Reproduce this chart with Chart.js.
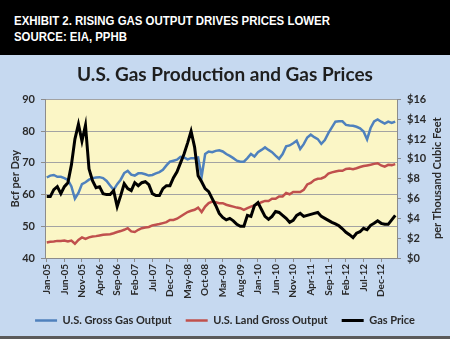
<!DOCTYPE html>
<html><head><meta charset="utf-8">
<script src="https://cdn.jsdelivr.net/npm/chart.js@4.4.1/dist/chart.umd.min.js"></script>
<style>
html,body{margin:0;padding:0;}
body{width:450px;height:339px;overflow:hidden;background:#c6d9f0;position:relative;}
#hdr{position:absolute;left:0;top:0;width:450px;height:55px;background:#000;}
.hl{position:absolute;left:14px;color:#fff;font-family:"Liberation Sans",Arial,sans-serif;font-weight:bold;font-size:12.5px;line-height:14px;white-space:nowrap;transform-origin:0 50%;}
#wrap{position:absolute;left:0;top:55px;width:450px;height:281px;}
#foot{position:absolute;left:0;top:336px;width:450px;height:3px;background:#5a5a5a;}
</style></head><body>
<div id="hdr">
<div class="hl" id="h1" style="top:14px">EXHIBIT 2. RISING GAS OUTPUT DRIVES PRICES LOWER</div>
<div class="hl" id="h2" style="top:30px">SOURCE: EIA, PPHB</div>
</div>
<div id="wrap"><canvas id="c" width="450" height="281"></canvas></div>
<div id="foot"></div>
<script>
// fit header lines to reference widths
[["h1",316],["h2",113]].forEach(function(p){var e=document.getElementById(p[0]);var w=e.getBoundingClientRect().width;e.style.transform="scaleX("+(p[1]/w)+")";});

const months = [
"Jan-05","Feb-05","Mar-05","Apr-05","May-05","Jun-05","Jul-05","Aug-05","Sep-05","Oct-05","Nov-05","Dec-05",
"Jan-06","Feb-06","Mar-06","Apr-06","May-06","Jun-06","Jul-06","Aug-06","Sep-06","Oct-06","Nov-06","Dec-06",
"Jan-07","Feb-07","Mar-07","Apr-07","May-07","Jun-07","Jul-07","Aug-07","Sep-07","Oct-07","Nov-07","Dec-07",
"Jan-08","Feb-08","Mar-08","Apr-08","May-08","Jun-08","Jul-08","Aug-08","Sep-08","Oct-08","Nov-08","Dec-08",
"Jan-09","Feb-09","Mar-09","Apr-09","May-09","Jun-09","Jul-09","Aug-09","Sep-09","Oct-09","Nov-09","Dec-09",
"Jan-10","Feb-10","Mar-10","Apr-10","May-10","Jun-10","Jul-10","Aug-10","Sep-10","Oct-10","Nov-10","Dec-10",
"Jan-11","Feb-11","Mar-11","Apr-11","May-11","Jun-11","Jul-11","Aug-11","Sep-11","Oct-11","Nov-11","Dec-11",
"Jan-12","Feb-12","Mar-12","Apr-12","May-12","Jun-12","Jul-12","Aug-12","Sep-12","Oct-12","Nov-12","Dec-12",
"Jan-13","Feb-13","Mar-13","Apr-13"];

const grossOutput = [
65.4,66.0,66.2,65.6,65.6,65.2,64.6,62.6,58.7,60.5,63.3,63.9,
64.7,65.2,65.4,65.5,65.2,64.3,62.9,61.5,63.3,64.7,66.8,67.5,
66.3,66.0,66.7,66.7,66.4,66.0,66.2,66.7,67.1,67.8,69.2,70.4,
70.7,71.0,71.9,71.7,71.1,71.5,71.5,71.7,65.7,72.8,73.6,73.4,
73.8,74.0,73.6,72.8,72.2,71.5,70.7,70.4,70.4,71.5,72.8,72.0,
73.4,74.1,74.9,74.1,73.4,72.3,71.3,72.8,75.2,75.5,76.2,77.0,
74.4,75.9,78.0,78.9,78.1,77.5,76.0,77.2,79.4,81.2,83.0,83.1,
83.1,82.0,81.8,81.7,81.4,80.9,79.9,77.4,81.0,83.1,83.7,83.0,
82.4,83.0,82.6,83.0];

const landOutput = [
44.9,45.1,45.2,45.4,45.4,45.5,45.2,45.5,44.5,45.7,46.5,46.0,
46.5,46.8,46.9,47.1,47.3,47.4,47.5,47.8,48.2,48.5,48.9,49.4,
48.4,48.2,48.9,49.4,49.6,49.8,50.3,50.5,50.7,51.0,51.3,52.0,
52.0,52.4,53.1,53.8,54.5,54.9,55.2,55.9,54.5,56.2,57.3,57.8,
57.6,57.3,57.3,56.8,56.5,56.2,55.9,55.7,55.2,55.7,56.2,56.6,
57.0,57.6,58.0,58.0,58.7,58.7,59.4,59.4,60.5,60.1,60.8,60.8,
60.8,61.5,63.2,63.7,64.6,65.0,65.1,65.6,66.6,67.0,67.3,67.5,
67.5,68.1,68.2,68.0,68.3,68.7,69.0,69.2,69.4,69.7,69.9,69.2,
68.8,69.4,69.3,69.6];

const gasPrice = [
6.2,6.2,6.9,7.2,6.5,7.2,7.6,9.4,12.0,13.5,11.8,13.4,
9.0,7.8,7.1,7.2,6.5,6.4,6.4,6.8,5.2,6.3,7.5,7.0,
6.8,7.6,7.3,7.6,7.7,7.4,6.5,6.3,6.3,7.0,7.3,7.3,
8.1,8.7,9.6,10.5,11.6,12.8,11.2,8.3,7.7,7.0,6.7,6.0,
5.3,4.5,4.1,3.85,4.0,3.75,3.4,3.2,3.2,4.3,4.2,5.3,
5.6,4.9,4.2,3.9,4.2,4.7,4.6,4.3,4.0,3.6,3.8,4.3,
4.5,4.2,4.3,4.4,4.5,4.6,4.2,4.0,3.8,3.6,3.45,3.25,
2.95,2.6,2.35,2.05,2.5,2.65,3.0,2.85,3.3,3.5,3.75,3.5,
3.4,3.4,3.85,4.3];

const leftTicks = {min:40, max:90, step:5};
const rightTicks = {min:0, max:16, step:2};

const AX = '#8c8c8c';
const TXT = '#2a2a2a';
const F = 'Lato';

const plotBg = {
  id:'plotBg',
  beforeDraw(chart){
    const a = chart.chartArea, ctx = chart.ctx;
    ctx.save(); ctx.fillStyle = '#fbf6c6';
    ctx.fillRect(a.left, a.top, a.right-a.left, a.bottom-a.top);
    ctx.restore();
  }
};
const rightTitle = {
  id:'rightTitle',
  afterDraw(chart){
    const ctx = chart.ctx, s = chart.scales.y2;
    ctx.save();
    ctx.font = 'bold 11px ' + F;
    ctx.fillStyle = TXT; ctx.textAlign = 'center'; ctx.textBaseline = 'middle';
    ctx.translate(437.5, (s.top + s.bottom)/2 - 0.5);
    ctx.rotate(-Math.PI/2);
    ctx.fillText('per Thousand Cubic Feet', 0, 0);
    ctx.restore();
  }
};

new Chart(document.getElementById('c'), {
  type:'line',
  data:{
    labels: months,
    datasets:[
      {label:'U.S. Gross Gas Output', data:grossOutput, yAxisID:'y', borderColor:'#4f81bd', backgroundColor:'#4f81bd', borderWidth:2.5, pointRadius:0, order:2},
      {label:'U.S. Land Gross Output', data:landOutput, yAxisID:'y', borderColor:'#c0504d', backgroundColor:'#c0504d', borderWidth:2.5, pointRadius:0, order:1},
      {label:'Gas Price', data:gasPrice, yAxisID:'y2', borderColor:'#000000', backgroundColor:'#000000', borderWidth:3, pointRadius:0, order:0}
    ]
  },
  options:{
    responsive:false, animation:false, devicePixelRatio:1,
    layout:{padding:0},
    plugins:{
      tooltip:{enabled:false},
      title:{display:true, text:'U.S. Gas Production and Gas Prices', color:'#1e1e1e',
        font:{family:F, size:19, weight:'bold', lineHeight:1.2}, padding:{top:8.6, bottom:13.1}},
      legend:{position:'bottom', labels:{
        font:{family:F, size:11, weight:'bold'}, color:TXT,
        usePointStyle:true, pointStyle:'line', pointStyleWidth:22, boxHeight:11, padding:14,
        sort:(a,b)=>a.datasetIndex-b.datasetIndex}}
    },
    scales:{
      x:{type:'category', offset:true,
        grid:{drawOnChartArea:false, drawTicks:true, tickLength:4,
          color:(c)=> (c.index % 5 === 0 ? AX : 'rgba(0,0,0,0)')},
        border:{color:AX, width:1},
        ticks:{autoSkip:false, minRotation:90, maxRotation:90, padding:2, color:TXT,
          font:{family:F, size:10, weight:'bold'},
          callback:(v,i)=> (i % 5 === 0 ? months[i] : '')},
        afterFit(s){ s.height = 43; }
      },
      y:{position:'left', min:leftTicks.min, max:leftTicks.max,
        ticks:{stepSize:leftTicks.step, color:TXT, padding:6, font:{family:F, size:11, weight:'bold'}},
        grid:{color:'#a3a3a3', lineWidth:1, tickLength:4, tickColor:AX},
        border:{color:AX, width:1},
        title:{display:true, text:'Bcf per Day', color:TXT, font:{family:F, size:11, weight:'bold'}, padding:{top:8.4, bottom:0}},
        afterFit(s){ s.width = 45; }
      },
      y2:{position:'right', min:rightTicks.min, max:rightTicks.max,
        ticks:{stepSize:rightTicks.step, color:TXT, padding:6, font:{family:F, size:11, weight:'bold'},
          callback:(v)=>'$'+v},
        grid:{drawOnChartArea:false, tickLength:4, color:AX},
        border:{color:AX, width:1},
        afterFit(s){ s.width = 53; }
      }
    }
  },
  plugins:[plotBg, rightTitle]
});
</script>
</body></html>
